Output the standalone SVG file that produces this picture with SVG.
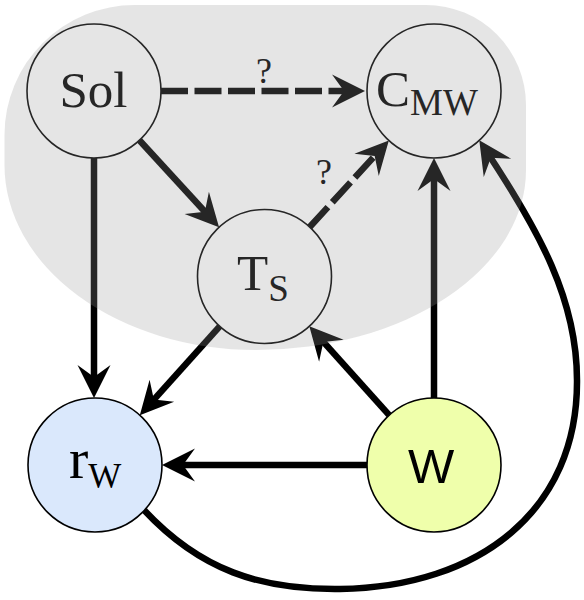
<svg xmlns="http://www.w3.org/2000/svg" width="584" height="600" viewBox="0 0 584 600">
<style>
.node{stroke:#000;stroke-width:1.6}
.edge{fill:none;stroke:#000;stroke-width:6.5}
.dash{stroke-dasharray:27 6.5}
.serif{font-family:"Liberation Serif","Times New Roman",serif;fill:#000}
.sans{font-family:"Liberation Sans",Arial,sans-serif;fill:#000}
</style>
<defs>
<marker id="ah" markerUnits="userSpaceOnUse" viewBox="-24 -18 36 36" refX="0" refY="0" markerWidth="36" markerHeight="36" orient="auto" overflow="visible">
<path d="M10,0 L-23,-16.5 L-11,0 L-23,16.5 Z" fill="#000"/>
</marker>
</defs>
<rect width="584" height="600" fill="#fff"/>
<g id="edges">
<line class="edge dash" x1="161" y1="91" x2="355" y2="91" marker-end="url(#ah)"/>
<text class="serif" x="264" y="83" font-size="36" text-anchor="middle">?</text>
<line class="edge" x1="139.4" y1="140.3" x2="212.3" y2="219.8" marker-end="url(#ah)"/>
<line class="edge dash" x1="309.7" y1="227" x2="382.1" y2="147.8" marker-end="url(#ah)"/>
<text class="serif" x="324" y="184" font-size="36" text-anchor="middle">?</text>
<line class="edge" x1="94" y1="158" x2="94" y2="388" marker-end="url(#ah)"/>
<line class="edge" x1="219.7" y1="326.3" x2="146.5" y2="407.8" marker-end="url(#ah)"/>
<line class="edge" x1="389.2" y1="415.2" x2="316" y2="333.7" marker-end="url(#ah)"/>
<line class="edge" x1="434" y1="398" x2="434" y2="168" marker-end="url(#ah)"/>
<line class="edge" x1="367" y1="465" x2="172" y2="465" marker-end="url(#ah)"/>
<path class="edge" d="M144,510 C200,570 260,590 340,589 C480,587 578,510 577,380 C577,300 540,232 484.8,148.7" marker-end="url(#ah)"/>
</g>
<g id="Sol">
<circle class="node" cx="94" cy="91" r="67" fill="#fff"/>
<text class="serif" x="93.5" y="107" font-size="51" text-anchor="middle">Sol</text>
</g>
<g id="CMW">
<circle class="node" cx="434" cy="91" r="67" fill="#fff"/>
<text class="serif" x="376" y="106" font-size="51">C<tspan font-size="37" dy="9">MW</tspan></text>
</g>
<g id="TS">
<circle class="node" cx="264.5" cy="276.5" r="67" fill="#fff"/>
<text class="serif" x="237" y="290" font-size="51">T<tspan font-size="37" dy="11">S</tspan></text>
</g>
<g id="rW">
<circle class="node" cx="95" cy="465" r="67" fill="#dae8fc"/>
<text class="serif" x="69" y="478" font-size="58">r<tspan font-size="35" dy="10">W</tspan></text>
</g>
<g id="W">
<circle class="node" cx="434" cy="465" r="67" fill="#efffab"/>
<text class="sans" x="431" y="483" font-size="49" text-anchor="middle">W</text>
</g>
<path id="group" d="M135,5 H426 A100 100 0 0 1 526 105 V170 A270 180 0 0 1 256 350 A251.5 185 0 0 1 4.5 165 V135 A130 130 0 0 1 135 5 Z" fill="#999" fill-opacity="0.25"/>
</svg>
